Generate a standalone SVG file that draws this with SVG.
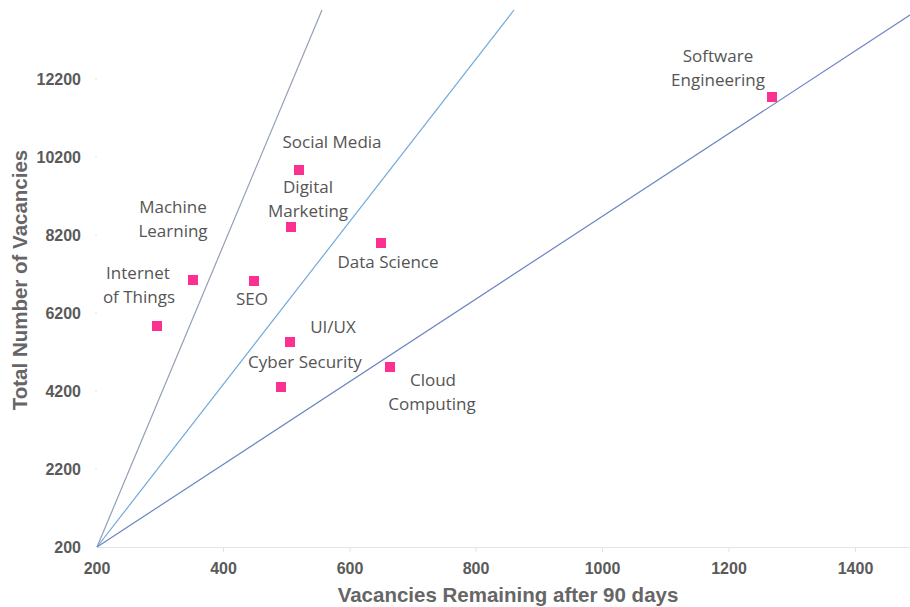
<svg xmlns="http://www.w3.org/2000/svg" width="910" height="607" viewBox="0 0 910 607">
<style>
  .tick { font-family: "Liberation Sans", Arial, sans-serif; font-weight: bold; font-size: 16px; fill: #5a5a5a; }
  .title { font-family: "Liberation Sans", Arial, sans-serif; font-weight: bold; font-size: 20.5px; fill: #666666; }
  .lbl { font-family: "Open Sans", "Noto Sans", sans-serif; font-size: 17px; fill: #555555; text-anchor: middle; }
  .pt { fill: #fb3192; }
  .grid { stroke: #e4e4e4; stroke-width: 1; fill: none; }
</style>
<rect width="910" height="607" fill="#ffffff"/>
<g id="axes">
  <line class="grid" x1="97" y1="547.5" x2="910" y2="547.5"/>
  <g class="grid">
    <line x1="223.5" y1="547" x2="223.5" y2="552"/>
    <line x1="350" y1="547" x2="350" y2="552"/>
    <line x1="476" y1="547" x2="476" y2="552"/>
    <line x1="602.5" y1="547" x2="602.5" y2="552"/>
    <line x1="729" y1="547" x2="729" y2="552"/>
    <line x1="855.5" y1="547" x2="855.5" y2="552"/>
    <line x1="95" y1="469" x2="97" y2="469"/>
    <line x1="95" y1="391" x2="97" y2="391"/>
    <line x1="95" y1="313" x2="97" y2="313"/>
    <line x1="95" y1="235" x2="97" y2="235"/>
    <line x1="95" y1="157" x2="97" y2="157"/>
    <line x1="95" y1="79" x2="97" y2="79"/>
  </g>
  <g class="tick" text-anchor="end">
    <text x="81" y="553">200</text>
    <text x="81" y="475">2200</text>
    <text x="81" y="397">4200</text>
    <text x="81" y="319">6200</text>
    <text x="81" y="241">8200</text>
    <text x="81" y="163">10200</text>
    <text x="81" y="85">12200</text>
  </g>
  <g class="tick" text-anchor="middle">
    <text x="97" y="574">200</text>
    <text x="223.5" y="574">400</text>
    <text x="350" y="574">600</text>
    <text x="476" y="574">800</text>
    <text x="602.5" y="574">1000</text>
    <text x="729" y="574">1200</text>
    <text x="855.5" y="574">1400</text>
  </g>
  <text class="title" x="508" y="602" text-anchor="middle">Vacancies Remaining after 90 days</text>
  <text class="title" transform="translate(27,280) rotate(-90)" text-anchor="middle">Total Number of Vacancies</text>
</g>
<g id="connectors" fill="none" stroke-width="1.2">
  <line x1="97" y1="547" x2="322" y2="10" stroke="#939fb8"/>
  <line x1="97" y1="547" x2="514" y2="10" stroke="#72a9da"/>
  <line x1="97" y1="547" x2="910" y2="15" stroke="#6d84c4"/>
</g>
<g id="software-engineering">
  <rect class="pt" x="767" y="92" width="10" height="10"/>
  <text class="lbl" x="718" y="62">Software</text>
  <text class="lbl" x="718" y="86">Engineering</text>
</g>
<g id="social-media">
  <rect class="pt" x="294" y="165" width="10" height="10"/>
  <text class="lbl" x="332" y="148">Social Media</text>
</g>
<g id="digital-marketing">
  <rect class="pt" x="286" y="222" width="10" height="10"/>
  <text class="lbl" x="308" y="193">Digital</text>
  <text class="lbl" x="308" y="217">Marketing</text>
</g>
<g id="data-science">
  <rect class="pt" x="376" y="238" width="10" height="10"/>
  <text class="lbl" x="388" y="268">Data Science</text>
</g>
<g id="machine-learning">
  <rect class="pt" x="188" y="275" width="10" height="10"/>
  <text class="lbl" x="173" y="213">Machine</text>
  <text class="lbl" x="173" y="237">Learning</text>
</g>
<g id="seo">
  <rect class="pt" x="249" y="276" width="10" height="10"/>
  <text class="lbl" x="252" y="305">SEO</text>
</g>
<g id="internet-of-things">
  <rect class="pt" x="152" y="321" width="10" height="10"/>
  <text class="lbl" x="138" y="279">Internet</text>
  <text class="lbl" x="139" y="303">of Things</text>
</g>
<g id="ui-ux">
  <rect class="pt" x="285" y="337" width="10" height="10"/>
  <text class="lbl" x="333" y="333">UI/UX</text>
</g>
<g id="cyber-security">
  <rect class="pt" x="276" y="382" width="10" height="10"/>
  <text class="lbl" x="305" y="368">Cyber Security</text>
</g>
<g id="cloud-computing">
  <rect class="pt" x="385" y="362" width="10" height="10"/>
  <text class="lbl" x="433" y="386">Cloud</text>
  <text class="lbl" x="432" y="410">Computing</text>
</g>
</svg>
